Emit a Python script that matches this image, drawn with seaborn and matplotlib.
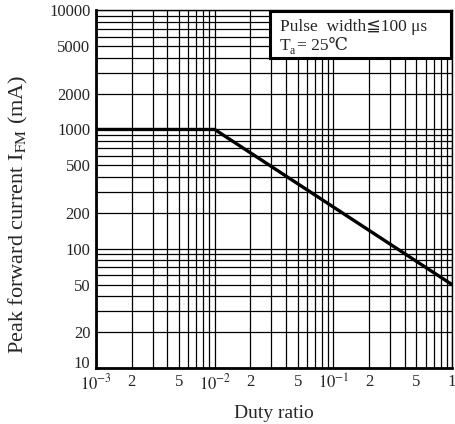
import pandas as pd
import matplotlib
matplotlib.use('Agg')
import matplotlib.pyplot as plt
import matplotlib.ticker as mticker
import matplotlib.transforms as mtransforms
from matplotlib.patches import Rectangle
import seaborn as sns

# data
duty_ratio = [1e-3, 1e-2, 1.0]
peak_current = [1000, 1000, 50]

x_ticks = [1e-3, 2e-3, 5e-3, 1e-2, 2e-2, 5e-2, 1e-1, 2e-1, 5e-1, 1.0]
x_labels = ['$10^{-3}$', '2', '5', '$10^{-2}$', '2', '5', '$10^{-1}$', '2', '5', '1']
y_ticks = [10, 20, 50, 100, 200, 500, 1000, 2000, 5000, 10000]
y_labels = ['10', '20', '50', '100', '200', '500', '1000', '2000', '5000', '10000']

sns.set_style('white')
plt.rcParams['font.family'] = ['Liberation Serif', 'DejaVu Serif', 'DejaVu Sans']
plt.rcParams['mathtext.fontset'] = 'stix'

df = pd.DataFrame({'duty': duty_ratio, 'ifm': peak_current})

fig = plt.figure(figsize=(4.56, 4.24), dpi=100)
ax = fig.add_axes([0.2105, 0.132, 0.781, 0.844])

sns.lineplot(data=df, x='duty', y='ifm', color='black', linewidth=2.4, ax=ax, zorder=5)

ax.set_xscale('log')
ax.set_yscale('log')
ax.set_xlim(1e-3, 1)
ax.set_ylim(10, 10000)

ax.xaxis.set_minor_locator(mticker.LogLocator(base=10, subs=range(2, 10), numticks=20))
ax.yaxis.set_minor_locator(mticker.LogLocator(base=10, subs=range(2, 10), numticks=20))
ax.xaxis.set_minor_formatter(mticker.NullFormatter())
ax.yaxis.set_minor_formatter(mticker.NullFormatter())
ax.set_xticks(x_ticks)
ax.set_xticklabels(x_labels, fontsize=12)
ax.set_yticks(y_ticks)
ax.set_yticklabels(y_labels, fontsize=12)
ax.tick_params(which='both', length=0, pad=4)

# nudge the lowest y label up a little, as in the original
lbl = ax.get_yticklabels()[0]
lbl.set_transform(lbl.get_transform() + mtransforms.ScaledTranslation(0, 4 / 72, fig.dpi_scale_trans))

ax.grid(True, which='both', color='black', linewidth=0.9)
for side in ['left', 'bottom']:
    ax.spines[side].set_linewidth(2)
for side in ['right', 'top']:
    ax.spines[side].set_linewidth(1)
for s in ax.spines.values():
    s.set_color('black')

ax.set_xlabel('Duty ratio', fontsize=14, labelpad=8)
ax.set_ylabel('Peak forward current I$_{\\mathrm{FM}}$ (mA)', fontsize=16)
ax.yaxis.set_label_coords(-0.185, 0.43)

# condition box in the upper right
ax.add_patch(Rectangle((0.49, 0.866), 0.508, 0.131, transform=ax.transAxes,
                       facecolor='white', edgecolor='black', linewidth=2.2, zorder=9, clip_on=False))
ax.text(0.517, 0.952, 'Pulse  width≦100 μs', transform=ax.transAxes,
        ha='left', va='center', fontsize=12.5, zorder=10)
ax.text(0.517, 0.899, 'T', transform=ax.transAxes, ha='left', va='center', fontsize=12.5, zorder=10)
ax.text(0.543, 0.887, 'a', transform=ax.transAxes, ha='left', va='center', fontsize=8.5, zorder=10)
ax.text(0.565, 0.899, '= 25℃', transform=ax.transAxes, ha='left', va='center', fontsize=12.5, zorder=10)

fig.savefig('out.png', dpi=100)
